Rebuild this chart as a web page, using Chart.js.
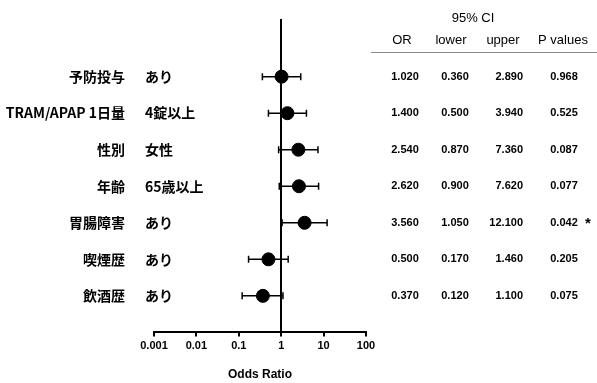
<!DOCTYPE html>
<html>
<head>
<meta charset="utf-8">
<script src="https://cdn.jsdelivr.net/npm/chart.js@4"></script>
<style>
  body { margin: 0; background: #fff; }
  #wrap { width: 597px; height: 383px; }
</style>
</head>
<body>
<div id="wrap"><canvas id="forest"></canvas></div>
<script>
var categories = ['予防投与', 'TRAM/APAP 1日量', '性別', '年齢', '胃腸障害', '喫煙歴', '飲酒歴'];
var subLabels = ['あり', '4錠以上', '女性', '65歳以上', 'あり', 'あり', 'あり'];
var orValues = [1.020, 1.400, 2.540, 2.620, 3.560, 0.500, 0.370];
var lowerValues = [0.360, 0.500, 0.870, 0.900, 1.050, 0.170, 0.120];
var upperValues = [2.890, 3.940, 7.360, 7.620, 12.100, 1.460, 1.100];
var pValues = [0.968, 0.525, 0.087, 0.077, 0.042, 0.205, 0.075];
var pMarks = ['', '', '', '', '*', '', ''];
var tickValues = [0.001, 0.01, 0.1, 1, 10, 100];
var tickLabels = ['0.001', '0.01', '0.1', '1', '10', '100'];

var JP = '"Noto Sans CJK JP", "Liberation Sans", sans-serif';
var LAT = '"Liberation Sans", Arial, sans-serif';

var datasets = [];
// CI bars, one small line per row
categories.forEach(function (c, i) {
    datasets.push({
        type: 'line',
        data: [{x: lowerValues[i], y: i + 1}, {x: upperValues[i], y: i + 1}],
        borderColor: '#000',
        borderWidth: 1.5,
        pointStyle: 'line',
        rotation: 90,
        pointRadius: 3.5,
        pointBorderWidth: 1.5,
        pointBorderColor: '#000',
        fill: false
    });
});
datasets.push({
    type: 'scatter',
    data: orValues.map(function (v, i) { return {x: v, y: i + 1}; }),
    backgroundColor: '#000',
    borderColor: '#000',
    pointRadius: 6.5,
    pointHoverRadius: 6.5
});

var tablePlugin = {
    id: 'tableText',
    afterDraw: function (chart) {
        var ctx = chart.ctx;
        var y = chart.scales.y;
        ctx.save();
        ctx.fillStyle = '#000';
        ctx.textBaseline = 'middle';

        // left labels
        categories.forEach(function (c, i) {
            var py = y.getPixelForValue(i + 1);
            ctx.font = 'bold 14px ' + JP;
            ctx.textAlign = 'right';
            ctx.fillText(c, 125, py);
            ctx.textAlign = 'left';
            ctx.fillText(subLabels[i], 145, py);
        });

        // table header
        ctx.font = '13px ' + LAT;
        ctx.textAlign = 'center';
        ctx.fillText('95% CI', 473, 18);
        ctx.fillText('OR', 402, 40);
        ctx.fillText('lower', 451, 40);
        ctx.fillText('upper', 503, 40);
        ctx.fillText('P values', 563, 40);

        ctx.strokeStyle = '#888';
        ctx.lineWidth = 1;
        ctx.beginPath();
        ctx.moveTo(371, 52.5);
        ctx.lineTo(597, 52.5);
        ctx.stroke();

        // table values
        ctx.font = 'bold 11px ' + LAT;
        categories.forEach(function (c, i) {
            var py = y.getPixelForValue(i + 1);
            ctx.textAlign = 'center';
            ctx.fillText(orValues[i].toFixed(3), 405, py);
            ctx.fillText(lowerValues[i].toFixed(3), 455, py);
            ctx.fillText(pValues[i].toFixed(3), 564, py);
            ctx.textAlign = 'right';
            ctx.fillText(upperValues[i].toFixed(3), 523, py);
            if (pMarks[i]) {
                ctx.textAlign = 'center';
                ctx.font = 'bold 15px ' + LAT;
                ctx.fillText(pMarks[i], 588, py + 1);
                ctx.font = 'bold 11px ' + LAT;
            }
        });
        ctx.restore();
    }
};

new Chart(document.getElementById('forest'), {
    data: { datasets: datasets },
    options: {
        responsive: true,
        maintainAspectRatio: false,
        animation: false,
        layout: { padding: { left: 154, right: 231, top: 20, bottom: 1 } },
        plugins: { legend: { display: false }, tooltip: { enabled: false } },
        scales: {
            x: {
                type: 'logarithmic',
                position: 'bottom',
                min: 0.001,
                max: 100,
                afterBuildTicks: function (scale) {
                    scale.ticks = tickValues.map(function (v) { return {value: v, major: true}; });
                },
                ticks: {
                    color: '#000',
                    padding: 3,
                    maxRotation: 0,
                    autoSkip: false,
                    font: { family: LAT, size: 11, weight: 'bold' },
                    callback: function (v) {
                        var k = tickValues.indexOf(v);
                        return k >= 0 ? tickLabels[k] : '';
                    }
                },
                grid: { display: true, drawOnChartArea: false, drawTicks: true, tickLength: 4, color: '#000', lineWidth: 2 },
                border: { display: true, color: '#000', width: 2 },
                title: {
                    display: true,
                    text: 'Odds Ratio',
                    color: '#000',
                    padding: { top: 12, bottom: 0 },
                    font: { family: LAT, size: 12, weight: 'bold' }
                }
            },
            y: {
                type: 'linear',
                position: { x: 1 },
                min: -0.55,
                max: 8,
                reverse: true,
                ticks: { display: false },
                grid: { display: false },
                border: { display: true, color: '#000', width: 2 }
            }
        }
    },
    plugins: [tablePlugin]
});
</script>
</body>
</html>
